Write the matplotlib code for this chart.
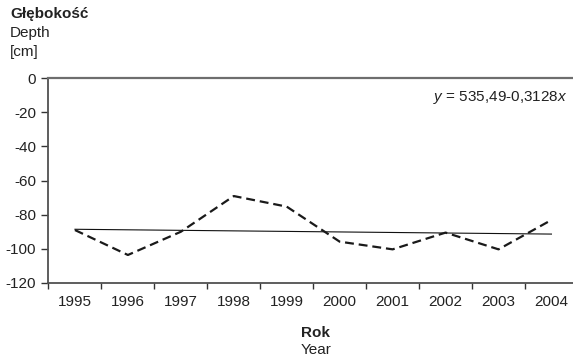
import numpy as np
import matplotlib
matplotlib.use('Agg')
import matplotlib.pyplot as plt

plt.rcParams['font.family'] = ['Liberation Sans', 'DejaVu Sans']
plt.rcParams['mathtext.fontset'] = 'custom'
plt.rcParams['mathtext.rm'] = 'Liberation Sans'
plt.rcParams['mathtext.it'] = 'Liberation Sans:italic'

# depth of water table per year [cm]
years = [1995, 1996, 1997, 1998, 1999, 2000, 2001, 2002, 2003, 2004]
depth = [-89.0, -103.6, -90.0, -69.1, -75.3, -95.8, -100.3, -90.5, -100.3, -83.1]

# linear trend y = a + b*x
trend_a = 535.49
trend_b = -0.3128

yticks = [0, -20, -40, -60, -80, -100, -120]

txt = '#222222'
fs = 11

fig = plt.figure(figsize=(5.73, 3.59), dpi=100)
ax = fig.add_axes([0.0846, 0.2117, 0.924, 0.571])

x = np.arange(len(years))
trend = [trend_a + trend_b * yr for yr in years]

ax.plot(x, trend, color='#111111', lw=0.8)
ax.plot(x, depth, color='#1a1a1a', lw=1.6, linestyle=(0, (4, 2.2)))

ax.set_xlim(-0.5, len(years) - 0.5)
ax.set_ylim(-120, 0)
ax.set_yticks(yticks)
ax.set_yticklabels([str(v) for v in yticks])
ax.set_xticks(x)
ax.set_xticklabels([str(yr) for yr in years])
ax.set_xticks(np.arange(len(years) + 1) - 0.5, minor=True)

ax.tick_params(axis='x', which='major', length=0, pad=9, labelsize=fs, labelcolor=txt)
ax.tick_params(axis='x', which='minor', length=4, width=1, color='#333333')
ax.tick_params(axis='y', length=5, width=1, color='#333333', pad=4,
               labelsize=fs, labelcolor=txt)

for side in ['left', 'bottom']:
    ax.spines[side].set_color('#505050')
    ax.spines[side].set_linewidth(1.3)
ax.spines['top'].set_color('#6e6e6e')
ax.spines['top'].set_linewidth(1.6)
ax.spines['right'].set_visible(False)

ax.text(0.979, 0.907, '$y$ = 535,49-0,3128$x$', transform=ax.transAxes,
        ha='right', va='center', fontsize=fs, color=txt)

# axis titles, Polish above English
fig.text(10 / 573, 1 - 14 / 359, 'Głębokość', fontsize=fs, fontweight='bold',
         color=txt, ha='left', va='center')
fig.text(10 / 573, 1 - 33 / 359, 'Depth', fontsize=fs, color=txt,
         ha='left', va='center')
fig.text(10 / 573, 1 - 52 / 359, '[cm]', fontsize=fs, color=txt,
         ha='left', va='center')

fig.text(316 / 573, 1 - 333 / 359, 'Rok', fontsize=fs, fontweight='bold',
         color=txt, ha='center', va='center')
fig.text(316 / 573, 1 - 350 / 359, 'Year', fontsize=fs, color=txt,
         ha='center', va='center')

fig.savefig('out.png', dpi=100)
